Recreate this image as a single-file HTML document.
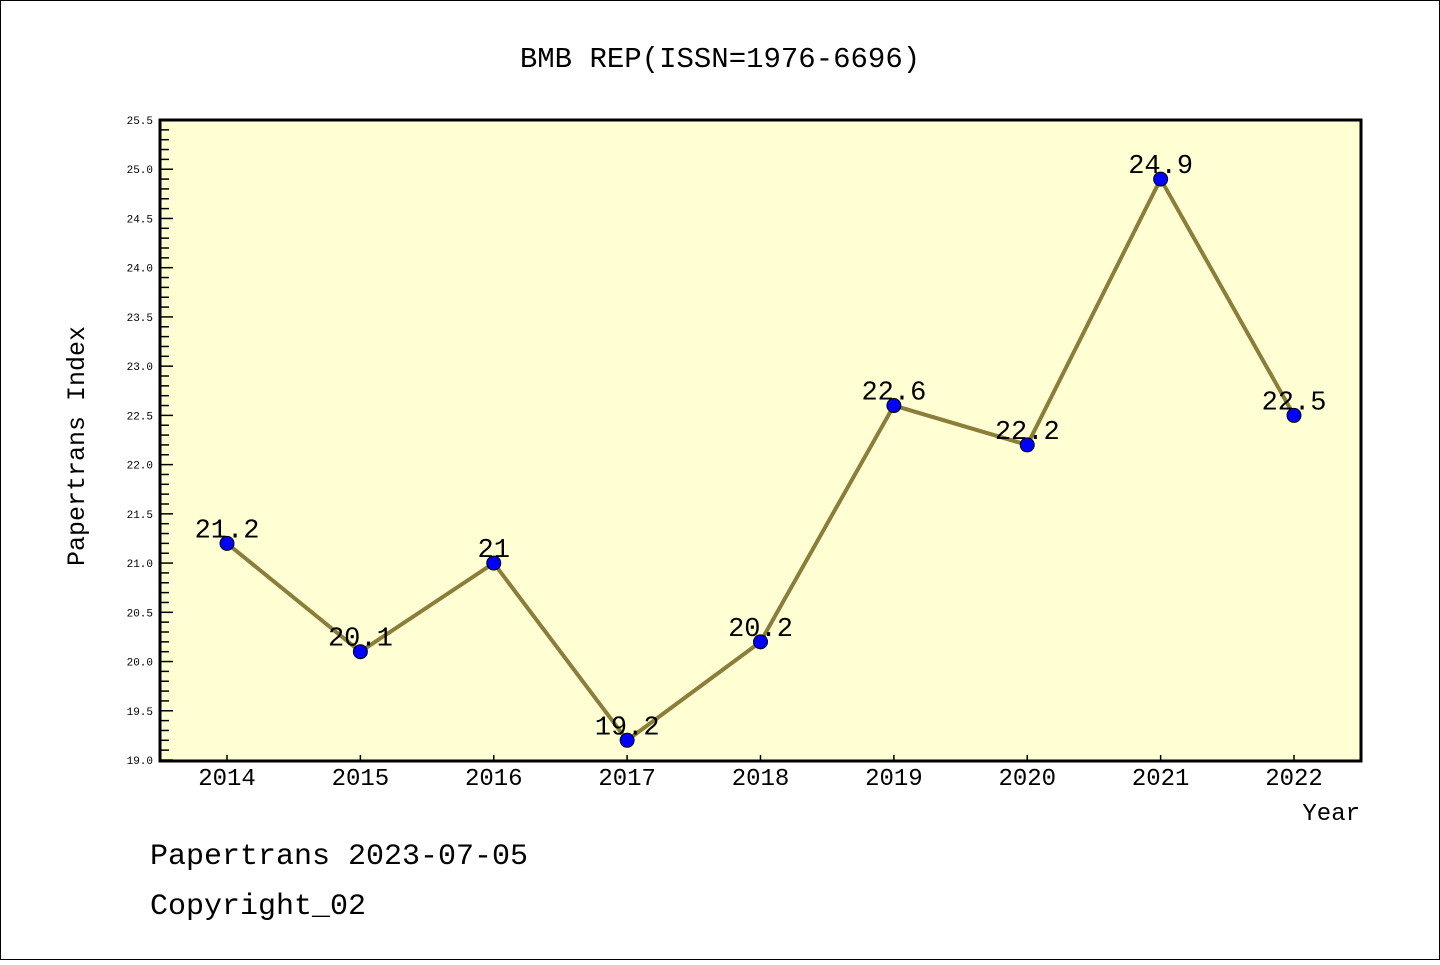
<!DOCTYPE html>
<html><head><meta charset="utf-8"><style>
body{margin:0;background:#fff}
svg text{font-family:"Liberation Mono","WenQuanYi Zen Hei",monospace}
</style></head><body>
<svg width="1440" height="960" xmlns="http://www.w3.org/2000/svg">
<rect x="0.5" y="0.5" width="1439" height="959" fill="#fff" stroke="#000"/>
<text x="720" y="67" font-size="29" text-anchor="middle">BMB REP(ISSN=1976-6696)</text>
<rect x="160" y="120" width="1201" height="641" fill="#ffffd3"/>
<g id="axes"></g>
<g id="marks"></g>
<rect x="160" y="120" width="1201" height="641" fill="none" stroke="#000" stroke-width="3"/>
<text x="84" y="446" font-size="25" text-anchor="middle" transform="rotate(-90 84 446)">Papertrans Index</text>
<text x="1360" y="820" font-size="24" text-anchor="end">Year</text>
<text x="150" y="864" font-size="30">Papertrans 2023-07-05</text>
<text x="150" y="914" font-size="30">Copyright_02</text>
</svg>
<script>
const years=["2014","2015","2016","2017","2018","2019","2020","2021","2022"];
const values=[21.2,20.1,21,19.2,20.2,22.6,22.2,24.9,22.5];
const valueLabels=["21.2","20.1","21","19.2","20.2","22.6","22.2","24.9","22.5"];
const yTicks=[19.0,19.5,20.0,20.5,21.0,21.5,22.0,22.5,23.0,23.5,24.0,24.5,25.0,25.5];
const NS="http://www.w3.org/2000/svg";
const yMin=19,yMax=25.5,plotTop=120,plotBot=760;
const yS=v=>plotBot-(v-yMin)/(yMax-yMin)*(plotBot-plotTop);
const xS=i=>227+i*(1294-227)/(years.length-1);
function mk(t,a,p){const e=document.createElementNS(NS,t);for(const k in a)e.setAttribute(k,a[k]);p.appendChild(e);return e;}
const ax=document.getElementById('axes'),mg=document.getElementById('marks');
for(let k=0;k<=65;k++){const v=yMin+k*0.1;const major=k%5===0;
 const l=mk('line',{x1:160,x2:major?173:169,y1:yS(v),y2:yS(v),stroke:'#000','stroke-width':1.5},ax);
 
 }
yTicks.forEach(v=>{const t=mk('text',{x:153,y:yS(v)+4,'font-size':11,'text-anchor':'end'},ax);t.textContent=v.toFixed(1);
 
 });
years.forEach((yr,i)=>{const l=mk('line',{x1:xS(i),x2:xS(i),y1:761,y2:755,stroke:'#000','stroke-width':1.5},ax);
 
 
 const t=mk('text',{x:xS(i),y:785,'font-size':24,'text-anchor':'middle'},ax);t.textContent=yr;
 
 });
const pl=mk('polyline',{points:values.map((v,i)=>xS(i)+','+yS(v)).join(' '),fill:'none',stroke:'#8b7d3a','stroke-width':4},mg);


values.forEach((v,i)=>{const c=mk('circle',{cx:xS(i),cy:yS(v),r:7,fill:'#0000ff',stroke:'#000','stroke-width':1},mg);
 
 
 const t=mk('text',{x:xS(i),y:yS(v)-6,'font-size':27,'text-anchor':'middle'},mg);t.textContent=valueLabels[i];
 
 });
</script>
</body></html>
